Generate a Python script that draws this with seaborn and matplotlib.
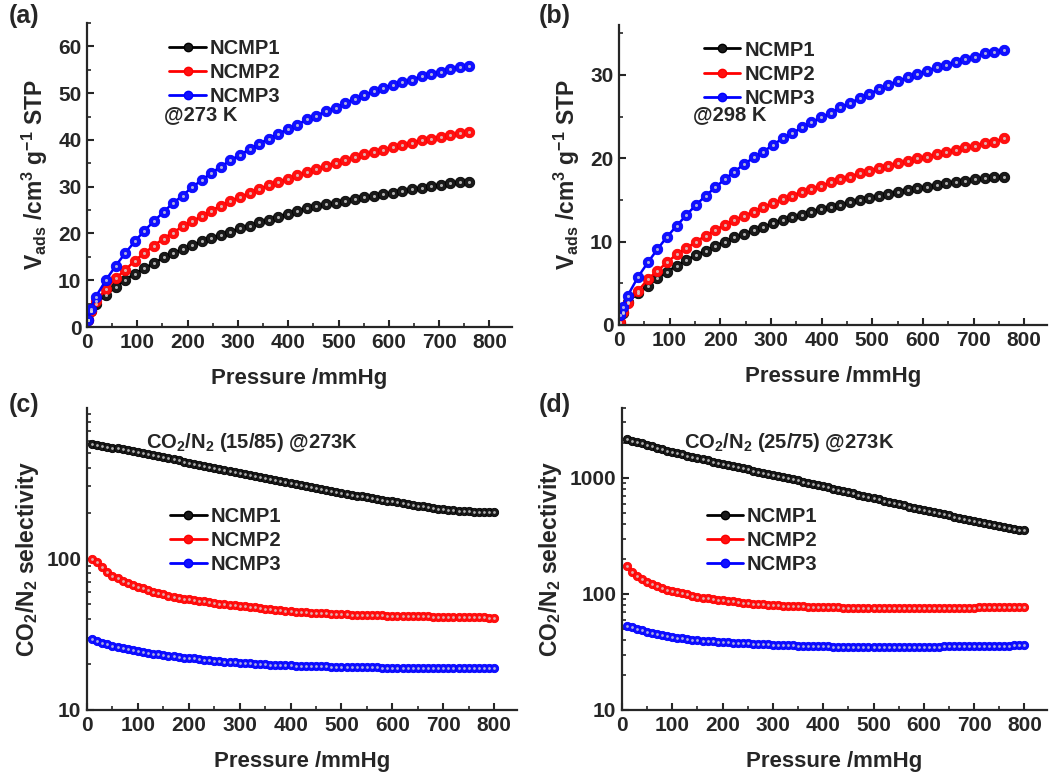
import numpy as np
import pandas as pd
import matplotlib.pyplot as plt
import seaborn as sns
from matplotlib.lines import Line2D
from matplotlib.ticker import LogLocator, FuncFormatter, MultipleLocator, NullFormatter

# ---- data: CO2 isotherms (a: 273 K, b: 298 K) ----
p_iso = [2, 7, 17, 38, 57, 76, 95, 114, 133, 152, 171, 190, 209, 228, 247, 266, 285,
         304, 323, 342, 361, 380, 399, 418, 437, 456, 475, 494, 513, 532, 551, 570,
         589, 608, 627, 646, 665, 684, 703, 722, 741, 760]

a_ncmp1 = [1.5, 3.5, 5.0, 6.9, 8.6, 10.1, 11.4, 12.6, 13.6, 14.9, 15.8, 16.6, 17.5, 18.3,
           19.0, 19.7, 20.4, 21.1, 21.7, 22.4, 22.9, 23.6, 24.2, 24.8, 25.4, 25.8, 26.2,
           26.6, 27.0, 27.4, 27.7, 28.0, 28.4, 28.7, 29.1, 29.4, 29.7, 30.1, 30.4, 30.7,
           30.9, 31.0]
a_ncmp2 = [1.5, 3.5, 5.5, 8.1, 10.4, 12.2, 14.2, 15.8, 17.4, 18.9, 20.2, 21.5, 22.6, 23.7,
           24.9, 25.9, 26.9, 27.8, 28.6, 29.5, 30.3, 31.0, 31.7, 32.5, 33.1, 33.7, 34.4,
           35.1, 35.7, 36.3, 36.9, 37.4, 37.9, 38.4, 38.9, 39.4, 39.9, 40.3, 40.7, 41.1,
           41.4, 41.6]
a_ncmp3 = [1.5, 3.8, 6.4, 10.1, 13.1, 15.8, 18.3, 20.6, 22.6, 24.6, 26.5, 28.1, 29.9, 31.4,
           32.9, 34.3, 35.6, 36.8, 38.0, 39.1, 40.3, 41.3, 42.3, 43.2, 44.4, 45.2, 46.1,
           46.9, 47.9, 48.7, 49.5, 50.4, 51.1, 51.8, 52.4, 52.9, 53.6, 54.1, 54.6, 55.2,
           55.6, 55.9]

b_ncmp1 = [0.2, 1.4, 2.8, 3.8, 4.7, 5.6, 6.4, 7.1, 7.8, 8.4, 8.9, 9.5, 10.0, 10.5, 10.9,
           11.4, 11.8, 12.2, 12.6, 12.9, 13.2, 13.6, 13.9, 14.2, 14.4, 14.7, 15.0, 15.2,
           15.5, 15.7, 16.0, 16.2, 16.4, 16.6, 16.8, 17.0, 17.2, 17.3, 17.5, 17.6, 17.8,
           17.8]
b_ncmp2 = [0.4, 1.6, 2.6, 4.1, 5.5, 6.5, 7.5, 8.5, 9.2, 10.0, 10.7, 11.4, 12.0, 12.6, 13.1,
           13.6, 14.2, 14.6, 15.1, 15.5, 16.0, 16.3, 16.7, 17.1, 17.5, 17.8, 18.2, 18.5,
           18.8, 19.1, 19.4, 19.7, 20.0, 20.2, 20.5, 20.8, 21.0, 21.3, 21.5, 21.8, 22.0,
           22.4]
b_ncmp3 = [1.2, 2.2, 3.5, 5.8, 7.5, 9.1, 10.6, 11.9, 13.2, 14.4, 15.5, 16.5, 17.5, 18.4,
           19.3, 20.1, 20.8, 21.6, 22.4, 23.0, 23.7, 24.3, 24.9, 25.4, 26.1, 26.6, 27.2,
           27.7, 28.3, 28.8, 29.3, 29.7, 30.1, 30.5, 30.9, 31.2, 31.6, 31.9, 32.2, 32.6,
           32.8, 33.0]

# ---- data: IAST selectivity (c: 15/85, d: 25/75) ----
p_sel = list(range(10, 810, 10))

c_ncmp1 = [570, 563, 556, 549, 542, 535, 528, 521, 515, 509,
           500, 492, 484, 476, 468, 460, 452, 445, 437, 430,
           424, 417, 411, 405, 399, 393, 387, 381, 375, 369,
           363, 358, 352, 347, 342, 336, 331, 326, 321, 316,
           311, 306, 302, 297, 292, 288, 284, 279, 275, 271,
           268, 264, 261, 258, 254, 251, 248, 245, 242, 239,
           236, 233, 230, 227, 224, 222, 219, 217, 214, 212,
           210, 209, 207, 206, 205, 204, 203.5, 203, 203, 203]
c_ncmp2 = [100, 95, 88, 82, 77, 74, 71, 69, 67, 65,
           63.5, 62, 60.5, 59, 58, 57, 56, 55, 54.5, 54,
           53.3, 52.7, 52.1, 51.5, 51, 50.5, 50, 49.6, 49.2, 48.8,
           48.4, 48, 47.6, 47.2, 46.8, 46.4, 46, 45.6, 45.3, 45,
           44.7, 44.5, 44.2, 44, 43.8, 43.6, 43.4, 43.2, 43.1, 43,
           42.9, 42.7, 42.6, 42.5, 42.4, 42.3, 42.2, 42.1, 42.0, 42.0,
           41.9, 41.8, 41.8, 41.7, 41.6, 41.6, 41.5, 41.4, 41.4, 41.3,
           41.2, 41.2, 41.1, 41.1, 41.0, 41.0, 40.9, 40.9, 40.8, 40.8]
c_ncmp3 = [29.3, 28.6, 27.9, 27.1, 26.4, 26.0, 25.6, 25.2, 24.8, 24.5,
           24.2, 23.9, 23.6, 23.3, 23.0, 22.8, 22.6, 22.4, 22.2, 22.1,
           21.9, 21.7, 21.5, 21.3, 21.2, 21.0, 20.9, 20.7, 20.6, 20.5,
           20.4, 20.3, 20.2, 20.1, 20.0, 19.9, 19.9, 19.8, 19.7, 19.7,
           19.6, 19.6, 19.5, 19.5, 19.4, 19.4, 19.4, 19.3, 19.3, 19.3,
           19.2, 19.2, 19.2, 19.1, 19.1, 19.1, 19.1, 19.0, 19.0, 19.0,
           19.0, 19.0, 18.9, 18.9, 18.9, 18.9, 18.9, 18.9, 18.9, 18.9,
           18.9, 18.8, 18.8, 18.8, 18.8, 18.8, 18.8, 18.8, 18.8, 18.8]

d_ncmp1 = [2150, 2090, 2035, 1980, 1925, 1870, 1815, 1765, 1715, 1667,
           1628, 1590, 1552, 1515, 1480, 1445, 1412, 1380, 1350, 1321,
           1292, 1264, 1236, 1209, 1182, 1156, 1131, 1107, 1084, 1062,
           1039, 1016, 994, 972, 950, 929, 908, 888, 868, 848,
           828, 809, 790, 771, 753, 735, 717, 700, 683, 667,
           652, 637, 622, 607, 593, 579, 566, 553, 540, 528,
           517, 506, 495, 484, 474, 464, 454, 444, 435, 427,
           418, 409, 400, 391, 383, 376, 369, 363, 358, 355]
d_ncmp2 = [174, 155, 143, 134, 127, 121, 116, 112, 109, 106,
           103.5, 101, 99, 96.5, 94.5, 93, 91.5, 90, 89, 88,
           87, 86, 85, 84, 83.2, 82.5, 81.8, 81.1, 80.5, 80,
           79.6, 79.2, 78.8, 78.5, 78.2, 77.9, 77.6, 77.4, 77.2, 77.0,
           76.8, 76.6, 76.4, 76.2, 76.0, 75.8, 75.7, 75.6, 75.5, 75.4,
           75.4, 75.4, 75.4, 75.4, 75.4, 75.4, 75.4, 75.4, 75.4, 75.4,
           75.5, 75.6, 75.7, 75.8, 75.9, 76.0, 76.1, 76.2, 76.3, 76.3,
           76.4, 76.5, 76.6, 76.7, 76.8, 76.9, 77.0, 77.1, 77.3, 77.4]
d_ncmp3 = [53.3, 51.5, 49.9, 48.4, 47.0, 46.0, 45.0, 44.1, 43.3, 42.5,
           41.9, 41.3, 40.8, 40.3, 39.9, 39.5, 39.2, 38.9, 38.7, 38.5,
           38.3, 38.1, 37.9, 37.7, 37.5, 37.3, 37.1, 36.9, 36.8, 36.6,
           36.5, 36.3, 36.2, 36.0, 35.9, 35.8, 35.6, 35.5, 35.4, 35.3,
           35.3, 35.2, 35.2, 35.2, 35.1, 35.1, 35.1, 35.1, 35.1, 35.1,
           35.1, 35.1, 35.1, 35.1, 35.1, 35.1, 35.1, 35.1, 35.1, 35.1,
           35.2, 35.2, 35.2, 35.3, 35.3, 35.3, 35.4, 35.4, 35.5, 35.6,
           35.6, 35.7, 35.7, 35.8, 35.8, 35.9, 35.9, 36.0, 36.0, 36.1]

samples = ["NCMP1", "NCMP2", "NCMP3"]
colors = {"NCMP1": "#000000", "NCMP2": "#ff0000", "NCMP3": "#0000ff"}
faces = {"NCMP1": "#1a1a1a", "NCMP2": "#ff1010", "NCMP3": "#1010ff"}


def make_df(x, series):
    rows = []
    for name, ys in zip(samples, series):
        rows.append(pd.DataFrame({"p": x, "v": ys, "sample": name}))
    return pd.concat(rows, ignore_index=True)


sns.set_style("ticks")
plt.rcParams['font.family'] = ['Liberation Sans', 'DejaVu Sans']
plt.rcParams['font.weight'] = 'bold'
plt.rcParams['axes.labelweight'] = 'bold'
plt.rcParams['mathtext.fontset'] = 'custom'
plt.rcParams['mathtext.rm'] = 'Liberation Sans:bold'
plt.rcParams['mathtext.it'] = 'Liberation Sans:bold'
plt.rcParams['mathtext.bf'] = 'Liberation Sans:bold'
plt.rcParams['mathtext.default'] = 'regular'

fig = plt.figure(figsize=(10.5, 7.76), dpi=100)
ax_a = fig.add_axes([0.0829, 0.5786, 0.4048, 0.3918])
ax_b = fig.add_axes([0.5895, 0.5812, 0.4076, 0.3866])
ax_c = fig.add_axes([0.0829, 0.0851, 0.4095, 0.3892])
ax_d = fig.add_axes([0.5924, 0.0851, 0.4048, 0.3892])


def draw(ax, df, ms, lw, hl):
    sns.lineplot(data=df, x="p", y="v", hue="sample", palette=faces, marker="o",
                 markersize=ms, linewidth=lw, estimator=None, sort=False,
                 markeredgewidth=0.6, ax=ax, legend=False)
    # sphere-like highlight in the markers
    for name in samples:
        sub = df[df["sample"] == name]
        ax.plot(sub["p"], sub["v"], ls="none", marker="o", ms=hl,
                mfc="#d8d8d8", mec="none", alpha=0.8)
    for line, name in zip(ax.lines[:3], samples):
        line.set_color(colors[name])
        line.set_markerfacecolor(faces[name])
        line.set_markeredgecolor(colors[name])


def style(ax):
    sns.despine(ax=ax)
    for s in ["left", "bottom"]:
        ax.spines[s].set_linewidth(1.6)
    ax.tick_params(axis="both", which="major", direction="in", length=5, width=1.5,
                   labelsize=15, pad=4)
    ax.tick_params(axis="both", which="minor", direction="in", length=3, width=1.2)
    ax.set_xlim(0, 845)
    ax.xaxis.set_major_locator(MultipleLocator(100))
    ax.xaxis.set_minor_locator(MultipleLocator(50))
    ax.set_xlabel("Pressure /mmHg", fontsize=16, fontweight="bold", labelpad=12)


def bold_ticks(ax):
    for lab in ax.get_xticklabels() + ax.get_yticklabels():
        lab.set_fontweight("bold")


def legend(ax, anchor, ms):
    handles = [Line2D([], [], color=colors[n], marker="o", ms=ms, lw=2,
                      mfc=faces[n], mec=colors[n]) for n in samples]
    ax.legend(handles, samples, loc="upper left", bbox_to_anchor=anchor, frameon=False,
              prop={"size": 14.5, "weight": "bold"}, handlelength=1.8, handletextpad=0.2,
              labelspacing=0.25, borderaxespad=0)


ylab_iso = r"V$_{ads}$ /cm$^{3}$ g$^{-1}$ STP"
ylab_sel = r"CO$_2$/N$_2$ selectivity"

# (a)
draw(ax_a, make_df(p_iso, [a_ncmp1, a_ncmp2, a_ncmp3]), 7.5, 1.8, 2.2)
style(ax_a)
ax_a.set_ylim(0, 65)
ax_a.yaxis.set_major_locator(MultipleLocator(10))
ax_a.yaxis.set_minor_locator(MultipleLocator(5))
ax_a.set_ylabel(ylab_iso, fontsize=16.5, fontweight="bold", labelpad=6)
legend(ax_a, (0.175, 0.975), 6)
ax_a.text(0.18, 0.70, "@273 K", transform=ax_a.transAxes, fontsize=14.5,
          fontweight="bold", va="center")
bold_ticks(ax_a)

# (b)
draw(ax_b, make_df(p_iso, [b_ncmp1, b_ncmp2, b_ncmp3]), 7.5, 1.8, 2.2)
style(ax_b)
ax_b.set_ylim(0, 36)
ax_b.yaxis.set_major_locator(MultipleLocator(10))
ax_b.yaxis.set_minor_locator(MultipleLocator(5))
ax_b.set_ylabel(ylab_iso, fontsize=16.5, fontweight="bold", labelpad=6)
legend(ax_b, (0.18, 0.975), 6)
ax_b.text(0.172, 0.70, "@298 K", transform=ax_b.transAxes, fontsize=14.5,
          fontweight="bold", va="center")
bold_ticks(ax_b)

plain = FuncFormatter(lambda v, pos: f"{v:g}")

# (c)
draw(ax_c, make_df(p_sel, [c_ncmp1, c_ncmp2, c_ncmp3]), 6, 1.2, 2.0)
style(ax_c)
ax_c.set_yscale("log")
ax_c.set_ylim(10, 990)
ax_c.yaxis.set_major_locator(LogLocator(base=10))
ax_c.yaxis.set_minor_locator(LogLocator(base=10, subs=np.arange(2, 10)))
ax_c.yaxis.set_major_formatter(plain)
ax_c.yaxis.set_minor_formatter(NullFormatter())
ax_c.set_ylabel(ylab_sel, fontsize=16.5, fontweight="bold", labelpad=4)
legend(ax_c, (0.175, 0.70), 6)
ax_c.text(0.137, 0.885, r"CO$_2$/N$_2$ (15/85) @273K", transform=ax_c.transAxes,
          fontsize=14.5, fontweight="bold", va="center")
bold_ticks(ax_c)

# (d)
draw(ax_d, make_df(p_sel, [d_ncmp1, d_ncmp2, d_ncmp3]), 6, 1.2, 2.0)
style(ax_d)
ax_d.set_yscale("log")
ax_d.set_ylim(10, 4000)
ax_d.yaxis.set_major_locator(LogLocator(base=10))
ax_d.yaxis.set_minor_locator(LogLocator(base=10, subs=np.arange(2, 10)))
ax_d.yaxis.set_major_formatter(plain)
ax_d.yaxis.set_minor_formatter(NullFormatter())
ax_d.set_ylabel(ylab_sel, fontsize=16.5, fontweight="bold", labelpad=4)
legend(ax_d, (0.18, 0.70), 6)
ax_d.text(0.145, 0.885, r"CO$_2$/N$_2$ (25/75) @273K", transform=ax_d.transAxes,
          fontsize=14.5, fontweight="bold", va="center")
bold_ticks(ax_d)

# panel labels
for lbl, x, y in [("(a)", 0.008, 0.995), ("(b)", 0.513, 0.995),
                  ("(c)", 0.008, 0.493), ("(d)", 0.513, 0.493)]:
    fig.text(x, y, lbl, fontsize=18, fontweight="bold", va="top", ha="left")

fig.savefig("out.png", dpi=100)
